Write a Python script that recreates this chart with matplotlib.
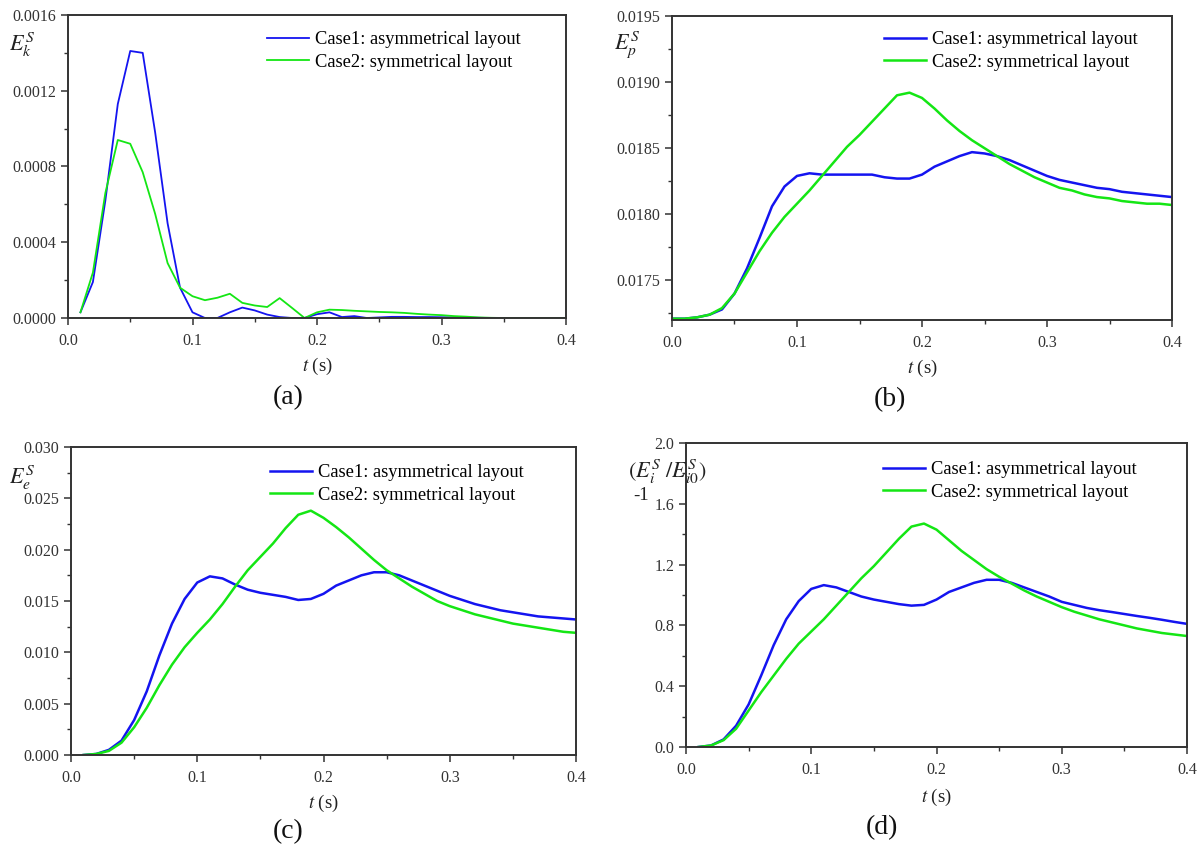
import matplotlib
matplotlib.use('Agg')
import matplotlib.pyplot as plt
from matplotlib.ticker import MultipleLocator, FormatStrFormatter

plt.rcParams['font.family'] = ['Liberation Serif', 'DejaVu Serif']
plt.rcParams['mathtext.fontset'] = 'stix'

# ---------------- data ----------------
t_a = [0.01, 0.02, 0.03, 0.04, 0.05, 0.06, 0.07, 0.08, 0.09, 0.10,
       0.11, 0.12, 0.13, 0.14, 0.15, 0.16, 0.17, 0.18, 0.19, 0.20,
       0.21, 0.22, 0.23, 0.24, 0.25, 0.26, 0.27, 0.28, 0.29, 0.30,
       0.31, 0.32, 0.33, 0.34, 0.35, 0.36, 0.37, 0.38, 0.39, 0.40]
t_b = [0.00] + t_a

case1_a = [0.00003, 0.00019, 0.00062, 0.00113, 0.00141, 0.00140, 0.00098, 0.00050, 0.00016, 0.00003,
           0.0, 0.0, 0.00003, 0.000055, 0.00004, 0.000018, 0.000005, 0.0, 0.0, 0.00002,
           0.00003, 0.000005, 0.00001, 0.0, 0.000003, 0.000006, 0.000006, 0.000005, 0.000005, 0.000004,
           0.000003, 0.000002, 0.000001, 0.0, 0.0, 0.0, 0.0, 0.0, 0.0, 0.0]
case2_a = [0.00003, 0.00024, 0.00066, 0.00094, 0.00092, 0.00077, 0.00055, 0.00029, 0.00016, 0.000115,
           0.000094, 0.000107, 0.000128, 0.00008, 0.000066, 0.000058, 0.000105, 0.000053, 0.0, 0.00003,
           0.000044, 0.000042, 0.000038, 0.000035, 0.000032, 0.00003, 0.000027, 0.000022, 0.000018, 0.000015,
           0.00001, 0.000007, 0.000003, 0.000001, 0.0, 0.0, 0.0, 0.0, 0.0, 0.0]

case1_b = [0.01721, 0.01721, 0.01722, 0.01724, 0.01728, 0.01740, 0.01759, 0.01782, 0.01806, 0.01821,
           0.01829, 0.01831, 0.01830, 0.01830, 0.01830, 0.01830, 0.01830, 0.01828, 0.01827, 0.01827,
           0.01830, 0.01836, 0.01840, 0.01844, 0.01847, 0.01846, 0.01844, 0.01841, 0.01837, 0.01833,
           0.01829, 0.01826, 0.01824, 0.01822, 0.01820, 0.01819, 0.01817, 0.01816, 0.01815, 0.01814,
           0.01813]
case2_b = [0.01721, 0.01721, 0.01722, 0.01724, 0.01729, 0.01740, 0.01756, 0.01772, 0.01786, 0.01798,
           0.01808, 0.01818, 0.01829, 0.01840, 0.01851, 0.01860, 0.01870, 0.01880, 0.01890, 0.01892,
           0.01888, 0.01880, 0.01871, 0.01863, 0.01856, 0.01850, 0.01844, 0.01838, 0.01833, 0.01828,
           0.01824, 0.01820, 0.01818, 0.01815, 0.01813, 0.01812, 0.01810, 0.01809, 0.01808, 0.01808,
           0.01807]

case1_c = [0.0, 0.0001, 0.0005, 0.0014, 0.0034, 0.0062, 0.0097, 0.0128, 0.0152, 0.0168,
           0.0174, 0.0172, 0.0166, 0.0161, 0.0158, 0.0156, 0.0154, 0.0151, 0.0152, 0.0157,
           0.0165, 0.0170, 0.0175, 0.0178, 0.0178, 0.0175, 0.0170, 0.0165, 0.0160, 0.0155,
           0.0151, 0.0147, 0.0144, 0.0141, 0.0139, 0.0137, 0.0135, 0.0134, 0.0133, 0.0132]
case2_c = [0.0, 0.0001, 0.0004, 0.0012, 0.0027, 0.0046, 0.0068, 0.0088, 0.0105, 0.0119,
           0.0132, 0.0147, 0.0164, 0.0180, 0.0193, 0.0206, 0.0221, 0.0234, 0.0238, 0.0231,
           0.0222, 0.0212, 0.0201, 0.0190, 0.0180, 0.0172, 0.0164, 0.0157, 0.0150, 0.0145,
           0.0141, 0.0137, 0.0134, 0.0131, 0.0128, 0.0126, 0.0124, 0.0122, 0.0120, 0.0119]

case1_d = [0.0, 0.01, 0.05, 0.14, 0.28, 0.47, 0.67, 0.84, 0.96, 1.04,
           1.065, 1.05, 1.02, 0.99, 0.97, 0.955, 0.94, 0.93, 0.935, 0.97,
           1.02, 1.05, 1.08, 1.10, 1.10, 1.08, 1.05, 1.02, 0.99, 0.955,
           0.935, 0.915, 0.90, 0.888, 0.875, 0.862, 0.85, 0.837, 0.823, 0.81]
case2_d = [0.0, 0.01, 0.045, 0.12, 0.24, 0.36, 0.47, 0.58, 0.68, 0.76,
           0.84, 0.93, 1.02, 1.11, 1.19, 1.28, 1.37, 1.45, 1.47, 1.43,
           1.36, 1.29, 1.23, 1.17, 1.12, 1.075, 1.03, 0.99, 0.955, 0.92,
           0.89, 0.865, 0.84, 0.82, 0.80, 0.78, 0.765, 0.75, 0.74, 0.73]

labels = ['Case1: asymmetrical layout', 'Case2: symmetrical layout']
blue = '#1414f0'
green = '#14e614'

W, H = 1199, 851
fig = plt.figure(figsize=(W / 100, H / 100), dpi=100)


def rect(l, r, top, bot):
    return [l / W, 1 - bot / H, (r - l) / W, (bot - top) / H]


panels = [
    dict(rect=rect(68, 566, 15, 318), t1=t_a, y1=case1_a, t2=t_a, y2=case2_a, lw=1.3,
         ylim=(0, 0.0016), major=0.0004, minor=0.0002, fmt='%.4f',
         leg=(267, 38), ylab=(22, 45), ylabtxt=r'$E_k^S$', xlab_y=366, tag='(a)', tag_xy=(288, 398)),
    dict(rect=rect(672, 1172, 16, 320), t1=t_b, y1=case1_b, t2=t_b, y2=case2_b, lw=1.8,
         ylim=(0.0172, 0.0195), major=0.0005, minor=0.00025, fmt='%.4f',
         leg=(884, 38), ylab=(627, 45), ylabtxt=r'$E_p^S$', xlab_y=368, tag='(b)', tag_xy=(890, 400)),
    dict(rect=rect(71, 576, 447, 755), t1=t_a, y1=case1_c, t2=t_a, y2=case2_c, lw=1.8,
         ylim=(0, 0.030), major=0.005, minor=0.0025, fmt='%.3f',
         leg=(270, 471), ylab=(22, 478), ylabtxt=r'$E_e^S$', xlab_y=803, tag='(c)', tag_xy=(288, 832)),
    dict(rect=rect(686, 1187, 443, 747), t1=t_a, y1=case1_d, t2=t_a, y2=case2_d, lw=1.8,
         ylim=(0, 2.0), major=0.4, minor=0.2, fmt='%.1f',
         leg=(883, 468), ylab=(667, 472), ylabtxt=r'$(E_i^S\ /E_{i0}^S)$', xlab_y=797, tag='(d)', tag_xy=(882, 828)),
]

for p in panels:
    ax = fig.add_axes(p['rect'])
    ax.plot(p['t1'], p['y1'], color=blue, lw=p['lw'], label=labels[0])
    ax.plot(p['t2'], p['y2'], color=green, lw=p['lw'], label=labels[1])
    ax.set_xlim(0, 0.4)
    ax.set_ylim(*p['ylim'])
    ax.xaxis.set_major_locator(MultipleLocator(0.1))
    ax.xaxis.set_minor_locator(MultipleLocator(0.05))
    ax.yaxis.set_major_locator(MultipleLocator(p['major']))
    ax.yaxis.set_minor_locator(MultipleLocator(p['minor']))
    ax.xaxis.set_major_formatter(FormatStrFormatter('%.1f'))
    ax.yaxis.set_major_formatter(FormatStrFormatter(p['fmt']))
    ax.tick_params(which='both', direction='out', top=False, right=False, labelsize=11.5, colors='#333333')
    ax.tick_params(which='major', length=5, width=1.1)
    ax.tick_params(axis='x', which='major', pad=6)
    ax.tick_params(which='minor', length=3, width=1.0)
    for s in ax.spines.values():
        s.set_linewidth(1.4)
        s.set_color('#333333')
    ax.legend(loc='upper left', bbox_to_anchor=(p['leg'][0] / W, 1 - (p['leg'][1] - 7) / H),
              bbox_transform=fig.transFigure, frameon=False, fontsize=13.3,
              handlelength=2.3, handletextpad=0.3, borderpad=0, borderaxespad=0, labelspacing=0.32)
    fig.text(p['ylab'][0] / W, 1 - p['ylab'][1] / H, p['ylabtxt'], fontsize=16,
             ha='center', va='center', color='#222222')
    x_mid = (p['rect'][0] + p['rect'][2] / 2)
    fig.text(x_mid, 1 - p['xlab_y'] / H, r'$t$ (s)', fontsize=13.5, ha='center', va='center', color='#222222')
    fig.text(p['tag_xy'][0] / W, 1 - p['tag_xy'][1] / H, p['tag'], fontsize=20, ha='center', va='center',
             color='#111111')

fig.text(641 / W, 1 - 495 / H, '-1', fontsize=13.5, ha='center', va='center', color='#222222')

fig.savefig('out.png', dpi=100)
